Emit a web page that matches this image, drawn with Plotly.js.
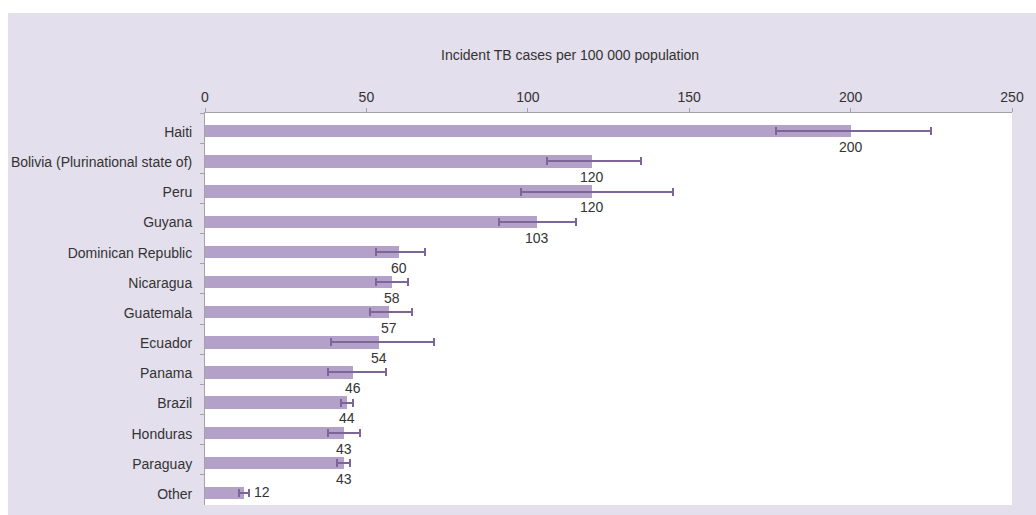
<!DOCTYPE html>
<html>
<head>
<meta charset="utf-8">
<script src="https://cdn.plot.ly/plotly-3.0.1.min.js"></script>
<style>
  html, body { margin: 0; padding: 0; background: #ffffff; }
  #chart { width: 1036px; height: 515px; }
</style>
</head>
<body>
<div id="chart"></div>
<script>
// Estimated TB incidence, Americas region (cases per 100 000 population)
const countries = [
  "Haiti", "Bolivia (Plurinational state of)", "Peru", "Guyana",
  "Dominican Republic", "Nicaragua", "Guatemala", "Ecuador",
  "Panama", "Brazil", "Honduras", "Paraguay", "Other"
];
const incidence = [200, 120, 120, 103, 60, 58, 57, 54, 46, 44, 43, 43, 12];
// Uncertainty interval bounds
const lowBound  = [177, 106, 98, 91, 53, 53, 51, 39, 38, 42, 38, 41, 10.6];
const highBound = [225, 135, 145, 115, 68, 63, 64, 71, 56, 46, 48, 45, 13.7];
const xTicks = [0, 50, 100, 150, 200, 250];

const FONT = "'Liberation Sans', Arial, sans-serif";
const FSIZE = 14;
const TEXT = "#333333";
const AXIS = "#a3a3a3";

const errPlus  = incidence.map((v, i) => highBound[i] - v);
const errMinus = incidence.map((v, i) => v - lowBound[i]);

const bars = {
  type: "bar",
  orientation: "h",
  x: incidence,
  y: countries,
  width: 0.41,
  offset: -0.1,
  marker: { color: "#b3a1c9", line: { width: 0 } },
  error_x: {
    type: "data",
    symmetric: false,
    array: errPlus,
    arrayminus: errMinus,
    color: "#7d6598",
    thickness: 2,
    width: 4
  },
  hoverinfo: "x+y"
};

// Value labels: under each bar, except the last which sits beside its interval
const last = countries.length - 1;
const valueLabels = countries.map((c, i) => (i < last ? {
  x: incidence[i], y: c, xref: "x", yref: "y",
  text: String(incidence[i]), showarrow: false,
  yshift: -19, font: { family: FONT, size: FSIZE, color: TEXT }
} : {
  x: highBound[i], y: c, xref: "x", yref: "y",
  text: String(incidence[i]), showarrow: false,
  xanchor: "left", xshift: 3, yshift: -2,
  font: { family: FONT, size: FSIZE, color: TEXT }
}));

const layout = {
  width: 1036,
  height: 515,
  margin: { l: 205, r: 24, t: 113, b: 10, pad: 0 },
  paper_bgcolor: "#e4dfec",
  plot_bgcolor: "#ffffff",
  showlegend: false,
  bargap: 0,
  font: { family: FONT, size: FSIZE, color: TEXT },
  xaxis: {
    side: "top",
    range: [0, 250],
    tickvals: xTicks,
    ticktext: xTicks.map(String),
    showgrid: false,
    zeroline: false,
    showline: true,
    linecolor: AXIS,
    linewidth: 1,
    ticks: "outside",
    ticklen: 4,
    tickcolor: AXIS,
    tickfont: { family: FONT, size: FSIZE, color: TEXT },
    fixedrange: true
  },
  yaxis: {
    type: "category",
    range: [countries.length - 0.5, -0.5],
    showgrid: false,
    zeroline: false,
    showline: true,
    linecolor: AXIS,
    linewidth: 1,
    ticks: "outside",
    tickson: "boundaries",
    ticklen: 4,
    tickcolor: AXIS,
    ticklabelstandoff: 9,
    ticklabelshift: -4,
    tickfont: { family: FONT, size: FSIZE, color: TEXT },
    fixedrange: true
  },
  shapes: [
    // white margin strips around the tinted panel
    { type: "rect", xref: "paper", yref: "paper", layer: "below",
      x0: -0.26, x1: 1.04, y0: (505 - 13) / 392, y1: 1.30,
      fillcolor: "#ffffff", line: { width: 0 } },
    { type: "rect", xref: "paper", yref: "paper", layer: "below",
      x0: -0.26, x1: (8 - 205) / 807, y0: -0.05, y1: 1.30,
      fillcolor: "#ffffff", line: { width: 0 } }
  ],
  annotations: [
    {
      xref: "paper", yref: "paper",
      x: (570 - 205) / 807, y: (505 - 45) / 392,
      text: "Incident TB cases per 100 000 population",
      showarrow: false,
      font: { family: FONT, size: FSIZE, color: TEXT }
    }
  ].concat(valueLabels)
};

Plotly.newPlot("chart", [bars], layout, { displayModeBar: false, staticPlot: true });
</script>
</body>
</html>
